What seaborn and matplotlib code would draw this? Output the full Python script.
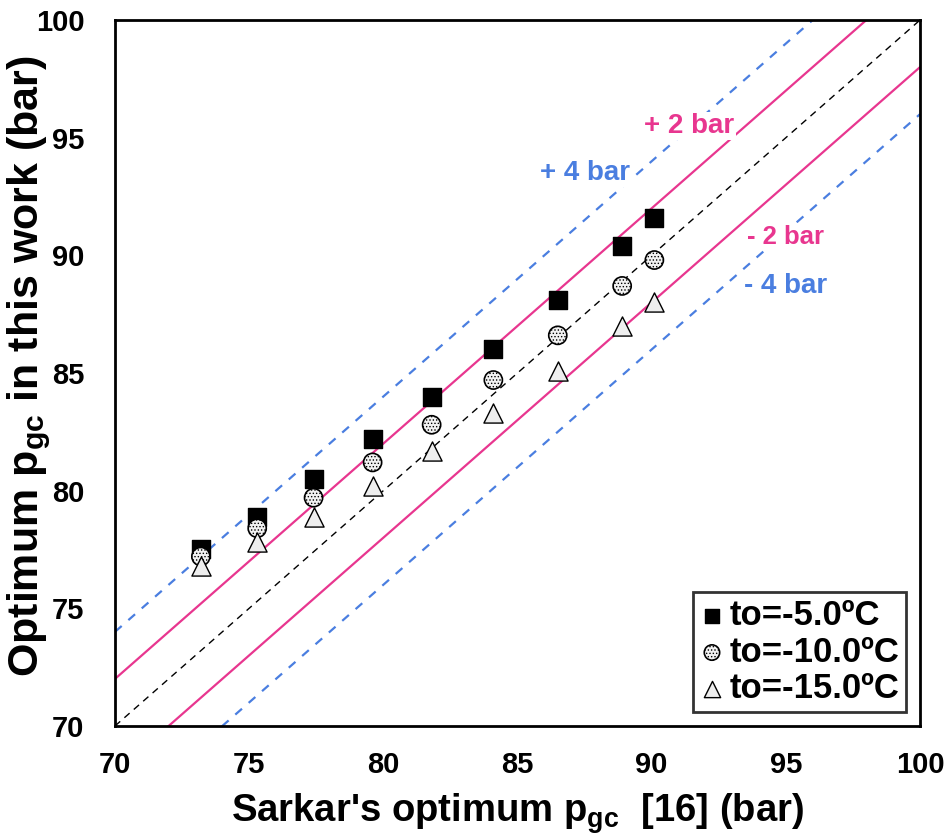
import matplotlib
matplotlib.use("Agg")
import matplotlib.pyplot as plt
import seaborn as sns
import numpy as np

sns.set_theme(style="white")
plt.rcParams['font.family'] = ['Liberation Sans', 'DejaVu Sans']
plt.rcParams['font.weight'] = 'bold'
plt.rcParams['text.color'] = 'black'
plt.rcParams['axes.labelcolor'] = 'black'
plt.rcParams['xtick.color'] = 'black'
plt.rcParams['ytick.color'] = 'black'
plt.rcParams['mathtext.fontset'] = 'custom'
plt.rcParams['mathtext.bf'] = 'Liberation Sans:bold'
plt.rcParams['mathtext.rm'] = 'Liberation Sans:bold'
plt.rcParams['hatch.linewidth'] = 0.6

sarkar = [73.2, 75.3, 77.4, 79.6, 81.8, 84.1, 86.5, 88.9, 90.1]
to_m5 = [77.5, 78.9, 80.5, 82.2, 84.0, 86.0, 88.1, 90.4, 91.6]
to_m10 = [77.2, 78.4, 79.7, 81.2, 82.8, 84.7, 86.6, 88.7, 89.8]
to_m15 = [76.8, 77.8, 78.9, 80.2, 81.7, 83.3, 85.1, 87.0, 88.0]
series_labels = ["to=-5.0ºC", "to=-10.0ºC", "to=-15.0ºC"]
line_x = [70, 100]
offsets = [0, 2, -2, 4, -4]

fig = plt.figure(figsize=(9.48, 8.38), dpi=100)
ax = fig.add_axes([0.1213, 0.1337, 0.8492, 0.8424])

pink = "#e8368f"
blue = "#4a7ee0"
for off in offsets:
    lx = np.array(line_x, dtype=float)
    ly = lx + off
    if off == 0:
        kw = dict(color="black", linestyle=(0, (5, 4)), linewidth=1.0)
    elif abs(off) == 2:
        kw = dict(color=pink, linestyle="-", linewidth=1.6)
    else:
        kw = dict(color=blue, linestyle=(0, (4, 4)), linewidth=1.6)
    sns.lineplot(x=lx, y=ly, ax=ax, **kw)

sns.scatterplot(x=sarkar, y=to_m5, ax=ax, marker="s", s=150, color="black",
                edgecolor="black", linewidth=1, label=series_labels[0], zorder=5)
sns.scatterplot(x=sarkar, y=to_m10, ax=ax, marker="o", s=170, color="#f2f2f2",
                edgecolor="black", linewidth=1.2, label=series_labels[1], zorder=5)
ax.collections[-1].set_hatch('.....')
sns.scatterplot(x=sarkar, y=to_m15, ax=ax, marker="^", s=190, color="#eeeeee",
                edgecolor="black", linewidth=1.0, label=series_labels[2], zorder=5)

ax.set_xlim(70, 100)
ax.set_ylim(70, 100)
ax.set_xticks(range(70, 101, 5))
ax.set_yticks(range(70, 101, 5))
ax.tick_params(axis='x', labelsize=21, length=0, pad=18)
ax.tick_params(axis='y', labelsize=21, length=0, pad=22)
for lab in ax.get_xticklabels() + ax.get_yticklabels():
    lab.set_fontweight('bold')
for sp in ax.spines.values():
    sp.set_color("black")
    sp.set_linewidth(2)

ax.set_xlabel("Sarkar's optimum p$_{\\mathbf{gc}}$  [16] (bar)", fontsize=27.5, fontweight='bold')
ax.set_ylabel("Optimum p$_{\\mathbf{gc}}$ in this work (bar)", fontsize=31, fontweight='bold')
ax.xaxis.set_label_coords(0.5, -0.092)
ax.yaxis.set_label_coords(-0.077, 0.51)

bbox = dict(facecolor='white', edgecolor='none', pad=1)
ax.text(91.4, 95.5, "+ 2 bar", color=pink, fontsize=20, fontweight='bold', ha='center', va='center', bbox=bbox)
ax.text(87.5, 93.5, "+ 4 bar", color=blue, fontsize=20, fontweight='bold', ha='center', va='center', bbox=bbox)
ax.text(95.0, 90.8, "- 2 bar", color=pink, fontsize=18.5, fontweight='bold', ha='center', va='center', bbox=bbox)
ax.text(95.0, 88.7, "- 4 bar", color=blue, fontsize=20, fontweight='bold', ha='center', va='center', bbox=bbox)

leg = ax.legend(loc='lower right', fontsize=25, frameon=True, fancybox=False,
                handletextpad=0.15, borderpad=0.2, labelspacing=0.1, markerscale=0.85,
                handlelength=0.7, borderaxespad=0.4)
leg.get_frame().set_edgecolor('black')
leg.get_frame().set_linewidth(2)
for t in leg.get_texts():
    t.set_fontweight('bold')

fig.savefig("out.png", dpi=100)
